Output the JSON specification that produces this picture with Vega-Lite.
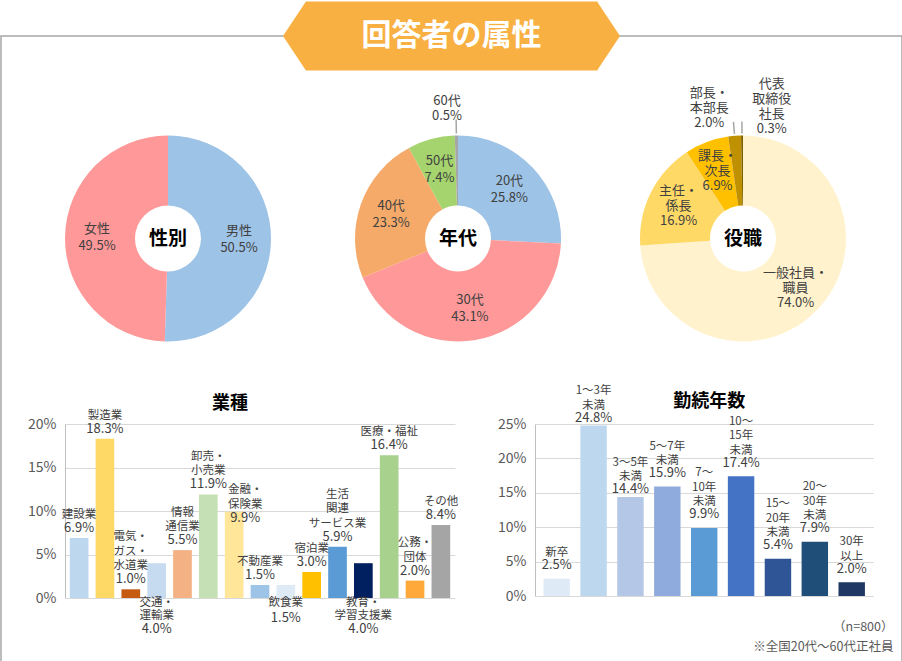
{
  "$schema": "https://vega.github.io/schema/vega-lite/v6.json",
  "padding": 0,
  "background": "white",
  "bounds": "flush",
  "spacing": 0,
  "resolve": {"scale": {"color": "independent", "theta": "independent"}},
  "config": {
    "view": {"stroke": null},
    "font": "Noto Sans CJK JP",
    "text": {"color": "#404040"}
  },
  "hconcat": [
    {
      "spacing": 388,
      "bounds": "flush",
      "resolve": {"scale": {"color": "independent", "theta": "independent"}},
      "vconcat": [
        {
          "spacing": 0,
          "bounds": "flush",
          "resolve": {"scale": {"color": "independent", "theta": "independent"}},
          "hconcat": [
            {
              "width": 334,
              "height": 405,
              "data": {"values": [
                {"name": "男性", "label": "男性", "v": 0.505, "i": 1},
                {"name": "女性", "label": "女性", "v": 0.495, "i": 2}
              ]},
              "transform": [{"calculate": "datum.label + '\\n' + format(datum.v, '.1%')", "as": "txt"}],
              "layer": [
                {
                  "mark": {"type": "arc", "outerRadius": 103, "innerRadius": 33},
                  "encoding": {
                    "theta": {"field": "v", "type": "quantitative", "stack": true},
                    "order": {"field": "i", "type": "quantitative"},
                    "color": {"field": "name", "type": "nominal", "scale": {"domain": ["男性", "女性"], "range": ["#9DC3E6", "#FF9999"]}, "legend": null}
                  }
                },
                {
                  "mark": {"type": "text", "radius": 71, "dy": -8.5, "fontSize": 13, "lineHeight": 17, "lineBreak": "\n", "baseline": "middle"},
                  "encoding": {
                    "theta": {"field": "v", "type": "quantitative", "stack": true},
                    "order": {"field": "i", "type": "quantitative"},
                    "detail": {"field": "name"},
                    "text": {"field": "txt"}
                  }
                },
                {
                  "data": {"values": [{"t": "性別"}]},
                  "transform": [],
                  "mark": {"type": "text", "fontSize": 19, "fontWeight": "bold", "color": "#000000", "baseline": "middle"},
                  "encoding": {"text": {"field": "t"}}
                }
              ]
            },
            {
              "width": 246,
              "height": 405,
              "data": {"values": [
                {"name": "20代", "label": "20代", "v": 0.258, "i": 1},
                {"name": "30代", "label": "30代", "v": 0.431, "i": 2},
                {"name": "40代", "label": "40代", "v": 0.233, "i": 3},
                {"name": "50代", "label": "50代", "v": 0.074, "i": 4},
                {"name": "60代", "label": "60代", "v": 0.005, "i": 5}
              ]},
              "transform": [{"calculate": "datum.label + '\\n' + format(datum.v, '.1%')", "as": "txt"}],
              "layer": [
                {
                  "mark": {"type": "arc", "outerRadius": 103, "innerRadius": 33},
                  "encoding": {
                    "theta": {"field": "v", "type": "quantitative", "stack": true},
                    "order": {"field": "i", "type": "quantitative"},
                    "color": {"field": "name", "type": "nominal", "scale": {"domain": ["20代", "30代", "40代", "50代", "60代"], "range": ["#9DC3E6", "#FF9999", "#F6AA6A", "#A5D46E", "#A6A6A6"]}, "legend": null}
                  }
                },
                {
                  "mark": {"type": "arc", "innerRadius": 105, "outerRadius": 119, "padAngle": 1, "filled": false, "stroke": "#A6A6A6", "strokeWidth": 1.5, "strokeDash": [2, 2]},
                  "encoding": {
                    "theta": {"field": "v", "type": "quantitative", "stack": true},
                    "order": {"field": "i", "type": "quantitative"},
                    "detail": {"field": "name"},
                    "strokeOpacity": {"condition": {"test": "datum.v < 0.05", "value": 1}, "value": 0}
                  }
                },
                {
                  "mark": {"type": "text", "radius": 71, "dy": -8.5, "fontSize": 13, "lineHeight": 17, "lineBreak": "\n", "baseline": "middle"},
                  "encoding": {
                    "theta": {"field": "v", "type": "quantitative", "stack": true},
                    "order": {"field": "i", "type": "quantitative"},
                    "detail": {"field": "name"},
                    "text": {"condition": {"test": "datum.v >= 0.05", "field": "txt"}, "value": ""}
                  }
                },
                {
                  "mark": {"type": "text", "radius": 130, "dx": -9, "dy": -7.5, "fontSize": 13, "lineHeight": 15, "lineBreak": "\n", "baseline": "middle"},
                  "encoding": {
                    "theta": {"field": "v", "type": "quantitative", "stack": true},
                    "order": {"field": "i", "type": "quantitative"},
                    "detail": {"field": "name"},
                    "text": {"condition": {"test": "datum.v < 0.05", "field": "txt"}, "value": ""}
                  }
                },
                {
                  "data": {"values": [{"t": "年代"}]},
                  "transform": [],
                  "mark": {"type": "text", "fontSize": 19, "fontWeight": "bold", "color": "#000000", "baseline": "middle"},
                  "encoding": {"text": {"field": "t"}}
                }
              ]
            },
            {
              "width": 324,
              "height": 405,
              "data": {"values": [
                {"name": "一般社員・職員", "label": "一般社員・\n職員", "v": 0.740, "i": 1},
                {"name": "主任・係長", "label": "主任・\n係長", "v": 0.169, "i": 2},
                {"name": "課長・次長", "label": "課長・\n次長", "v": 0.069, "i": 3},
                {"name": "部長・本部長", "label": "部長・\n本部長", "v": 0.020, "i": 4},
                {"name": "代表取締役社長", "label": "代表\n取締役\n社長", "v": 0.003, "i": 5}
              ]},
              "transform": [{"calculate": "datum.label + '\\n' + format(datum.v, '.1%')", "as": "txt"}],
              "layer": [
                {
                  "mark": {"type": "arc", "outerRadius": 103, "innerRadius": 33},
                  "encoding": {
                    "theta": {"field": "v", "type": "quantitative", "stack": true},
                    "order": {"field": "i", "type": "quantitative"},
                    "color": {"field": "name", "type": "nominal", "scale": {"domain": ["一般社員・職員", "主任・係長", "課長・次長", "部長・本部長", "代表取締役社長"], "range": ["#FFF2CC", "#FFD966", "#FFC000", "#BF9000", "#7F6000"]}, "legend": null}
                  }
                },
                {
                  "mark": {"type": "arc", "innerRadius": 105, "outerRadius": 117, "padAngle": 1, "filled": false, "stroke": "#A6A6A6", "strokeWidth": 1.5, "strokeDash": [2, 2]},
                  "encoding": {
                    "theta": {"field": "v", "type": "quantitative", "stack": true},
                    "order": {"field": "i", "type": "quantitative"},
                    "detail": {"field": "name"},
                    "strokeOpacity": {"condition": {"test": "datum.v < 0.05", "value": 1}, "value": 0}
                  }
                },
                {
                  "mark": {"type": "text", "radius": 72, "dy": -15, "fontSize": 13, "lineHeight": 15, "lineBreak": "\n", "baseline": "middle"},
                  "encoding": {
                    "theta": {"field": "v", "type": "quantitative", "stack": true},
                    "order": {"field": "i", "type": "quantitative"},
                    "detail": {"field": "name"},
                    "text": {"condition": {"test": "datum.v >= 0.05", "field": "txt"}, "value": ""}
                  }
                },
                {
                  "mark": {"type": "text", "radius": 131, "dx": -23, "dy": -15, "fontSize": 13, "lineHeight": 15, "lineBreak": "\n", "baseline": "middle"},
                  "encoding": {
                    "theta": {"field": "v", "type": "quantitative", "stack": true},
                    "order": {"field": "i", "type": "quantitative"},
                    "detail": {"field": "name"},
                    "text": {"condition": {"test": "datum.name === '部長・本部長'", "field": "txt"}, "value": ""}
                  }
                },
                {
                  "mark": {"type": "text", "radius": 132, "dx": 30, "dy": -23, "fontSize": 13, "lineHeight": 15, "lineBreak": "\n", "baseline": "middle"},
                  "encoding": {
                    "theta": {"field": "v", "type": "quantitative", "stack": true},
                    "order": {"field": "i", "type": "quantitative"},
                    "detail": {"field": "name"},
                    "text": {"condition": {"test": "datum.name === '代表取締役社長'", "field": "txt"}, "value": ""}
                  }
                },
                {
                  "data": {"values": [{"t": "役職"}]},
                  "transform": [],
                  "mark": {"type": "text", "fontSize": 19, "fontWeight": "bold", "color": "#000000", "baseline": "middle"},
                  "encoding": {"text": {"field": "t"}}
                }
              ]
            }
          ]
        },
        {
          "spacing": 0,
          "bounds": "flush",
          "resolve": {"scale": {"color": "independent"}},
          "hconcat": [
            {"width": 63.3, "height": 0, "data": {"values": [{"t": ""}]}, "mark": {"type": "text"}, "encoding": {"text": {"field": "t"}}},
            {
              "width": 390,
              "height": 174,
              "title": {"text": "業種", "fontSize": 18, "fontWeight": "bold", "color": "#000000", "dx": -30, "dy": 7, "offset": 4, "anchor": "middle"},
              "data": {"values": [
                {"name": "建設業", "label": "建設業", "v": 0.069},
                {"name": "製造業", "label": "製造業", "v": 0.183},
                {"name": "電気・ガス・水道業", "label": "電気・\nガス・\n水道業", "v": 0.010},
                {"name": "交通・運輸業", "label": "交通・\n運輸業", "v": 0.040},
                {"name": "情報通信業", "label": "情報\n通信業", "v": 0.055},
                {"name": "卸売・小売業", "label": "卸売・\n小売業", "v": 0.119},
                {"name": "金融・保険業", "label": "金融・\n保険業", "v": 0.099},
                {"name": "不動産業", "label": "不動産業", "v": 0.015},
                {"name": "飲食業", "label": "飲食業", "v": 0.015},
                {"name": "宿泊業", "label": "宿泊業", "v": 0.030},
                {"name": "生活関連サービス業", "label": "生活\n関連\nサービス業", "v": 0.059},
                {"name": "教育・学習支援業", "label": "教育・\n学習支援業", "v": 0.040},
                {"name": "医療・福祉", "label": "医療・福祉", "v": 0.164},
                {"name": "公務・団体", "label": "公務・\n団体", "v": 0.020},
                {"name": "その他", "label": "その他", "v": 0.084}
              ]},
              "encoding": {
                "x": {"field": "name", "type": "nominal", "sort": null, "axis": null, "scale": {"paddingInner": 0.277, "paddingOuter": 0.185}},
                "y": {"field": "v", "type": "quantitative", "title": null, "scale": {"domain": [0, 0.2], "nice": false},
                  "axis": {"format": ".0%", "values": [0, 0.05, 0.1, 0.15, 0.2], "ticks": false, "labelFontSize": 14, "labelColor": "#595959", "labelPadding": 9, "domainColor": "#BFBFBF", "gridColor": "#D9D9D9"}}
              },
              "layer": [
                {
                  "mark": {"type": "bar"},
                  "encoding": {
                    "color": {"field": "name", "type": "nominal", "legend": null, "scale": {
                      "domain": ["建設業", "製造業", "電気・ガス・水道業", "交通・運輸業", "情報通信業", "卸売・小売業", "金融・保険業", "不動産業", "飲食業", "宿泊業", "生活関連サービス業", "教育・学習支援業", "医療・福祉", "公務・団体", "その他"],
                      "range": ["#BDD7EE", "#FFD966", "#C55A11", "#C6DBEF", "#F4B183", "#C5E0B4", "#FFE699", "#9DC3E6", "#DEEBF7", "#FFC000", "#5B9BD5", "#002060", "#A9D18E", "#FFA93A", "#A5A5A5"]}}
                  }
                },
                {
                  "transform": [{"filter": {"and": [{"not": {"field": "name", "oneOf": ["交通・運輸業", "飲食業", "教育・学習支援業", "金融・保険業"]}}, "length(split(datum.label, '\\n')) === 1"]}}],
                  "mark": {"type": "text", "baseline": "bottom", "dy": -18, "fontSize": 11.5, "lineHeight": 14.5, "lineBreak": "\n"},
                  "encoding": {"text": {"field": "label"}}
                },
                {
                  "transform": [{"filter": {"and": [{"not": {"field": "name", "oneOf": ["交通・運輸業", "飲食業", "教育・学習支援業", "金融・保険業"]}}, "length(split(datum.label, '\\n')) === 2"]}}],
                  "mark": {"type": "text", "baseline": "bottom", "dy": -32.5, "fontSize": 11.5, "lineHeight": 14.5, "lineBreak": "\n"},
                  "encoding": {"text": {"field": "label"}}
                },
                {
                  "transform": [{"filter": {"and": [{"not": {"field": "name", "oneOf": ["交通・運輸業", "飲食業", "教育・学習支援業", "金融・保険業"]}}, "length(split(datum.label, '\\n')) === 3"]}}],
                  "mark": {"type": "text", "baseline": "bottom", "dy": -47, "fontSize": 11.5, "lineHeight": 14.5, "lineBreak": "\n"},
                  "encoding": {"text": {"field": "label"}}
                },
                {
                  "transform": [{"filter": {"not": {"field": "name", "oneOf": ["交通・運輸業", "飲食業", "教育・学習支援業", "金融・保険業"]}}}],
                  "mark": {"type": "text", "baseline": "bottom", "dy": -3, "fontSize": 13},
                  "encoding": {"text": {"field": "v", "type": "quantitative", "format": ".1%"}}
                },
                {
                  "transform": [{"filter": {"field": "name", "equal": "金融・保険業"}}],
                  "mark": {"type": "text", "baseline": "bottom", "dx": 11, "dy": -16.5, "fontSize": 11.5, "lineHeight": 14.5, "lineBreak": "\n"},
                  "encoding": {"text": {"field": "label"}}
                },
                {
                  "transform": [{"filter": {"field": "name", "equal": "金融・保険業"}}],
                  "mark": {"type": "text", "baseline": "bottom", "dx": 11, "dy": 13, "fontSize": 13},
                  "encoding": {"text": {"field": "v", "type": "quantitative", "format": ".1%"}}
                },
                {
                  "transform": [{"filter": {"field": "name", "oneOf": ["交通・運輸業", "飲食業", "教育・学習支援業"]}}],
                  "mark": {"type": "text", "baseline": "top", "dy": -1, "fontSize": 11.5, "lineHeight": 12.5, "lineBreak": "\n"},
                  "encoding": {"y": {"datum": 0, "type": "quantitative"}, "text": {"field": "label"}}
                },
                {
                  "transform": [{"filter": {"field": "name", "oneOf": ["交通・運輸業", "教育・学習支援業"]}}],
                  "mark": {"type": "text", "baseline": "top", "dy": 25, "fontSize": 13},
                  "encoding": {"y": {"datum": 0, "type": "quantitative"}, "text": {"field": "v", "type": "quantitative", "format": ".1%"}}
                },
                {
                  "transform": [{"filter": {"field": "name", "equal": "飲食業"}}],
                  "mark": {"type": "text", "baseline": "top", "dy": 13.5, "fontSize": 13},
                  "encoding": {"y": {"datum": 0, "type": "quantitative"}, "text": {"field": "v", "type": "quantitative", "format": ".1%"}}
                }
              ]
            },
            {"width": 80, "height": 0, "data": {"values": [{"t": ""}]}, "mark": {"type": "text"}, "encoding": {"text": {"field": "t"}}},
            {
              "width": 338.4,
              "height": 172,
              "title": {"text": "勤続年数", "fontSize": 18, "fontWeight": "bold", "color": "#000000", "dx": 5, "dy": 30, "offset": 4, "anchor": "middle"},
              "data": {"values": [
                {"name": "新卒", "label": "新卒", "v": 0.025},
                {"name": "1～3年未満", "label": "1～3年\n未満", "v": 0.248},
                {"name": "3～5年未満", "label": "3～5年\n未満", "v": 0.144},
                {"name": "5～7年未満", "label": "5～7年\n未満", "v": 0.159},
                {"name": "7～10年未満", "label": "7～\n10年\n未満", "v": 0.099},
                {"name": "10～15年未満", "label": "10～\n15年\n未満", "v": 0.174},
                {"name": "15～20年未満", "label": "15～\n20年\n未満", "v": 0.054},
                {"name": "20～30年未満", "label": "20～\n30年\n未満", "v": 0.079},
                {"name": "30年以上", "label": "30年\n以上", "v": 0.020}
              ]},
              "encoding": {
                "x": {"field": "name", "type": "nominal", "sort": null, "title": ["（n=800）", "※全国20代～60代正社員"],
                  "scale": {"paddingInner": 0.283, "paddingOuter": 0.23},
                  "axis": {"labels": false, "ticks": false, "domain": false, "grid": false, "titleFontSize": 12.5, "titleFontWeight": "normal", "titleColor": "#595959", "titleAnchor": "end", "titleAlign": "right", "titleX": 358, "titleY": 24.5, "titleBaseline": "top", "titleLineHeight": 20}},
                "y": {"field": "v", "type": "quantitative", "title": null, "scale": {"domain": [0, 0.25], "nice": false},
                  "axis": {"format": ".0%", "values": [0, 0.05, 0.1, 0.15, 0.2, 0.25], "ticks": false, "labelFontSize": 14, "labelColor": "#595959", "labelPadding": 9, "domainColor": "#BFBFBF", "gridColor": "#D9D9D9"}}
              },
              "layer": [
                {
                  "mark": {"type": "bar"},
                  "encoding": {
                    "color": {"field": "name", "type": "nominal", "legend": null, "scale": {
                      "domain": ["新卒", "1～3年未満", "3～5年未満", "5～7年未満", "7～10年未満", "10～15年未満", "15～20年未満", "20～30年未満", "30年以上"],
                      "range": ["#DEEBF7", "#BDD7EE", "#B4C7E7", "#8FAADC", "#5B9BD5", "#4472C4", "#2F5597", "#1F4E79", "#203864"]}}
                  }
                },
                {
                  "transform": [{"filter": "length(split(datum.label, '\\n')) === 1"}],
                  "mark": {"type": "text", "baseline": "bottom", "dy": -20.5, "fontSize": 11.5, "lineHeight": 14.5, "lineBreak": "\n"},
                  "encoding": {"text": {"field": "label"}}
                },
                {
                  "transform": [{"filter": {"and": [{"not": {"field": "name", "oneOf": ["1～3年未満", "3～5年未満"]}}, "length(split(datum.label, '\\n')) === 2"]}}],
                  "mark": {"type": "text", "baseline": "bottom", "dy": -35, "fontSize": 11.5, "lineHeight": 14.5, "lineBreak": "\n"},
                  "encoding": {"text": {"field": "label"}}
                },
                {
                  "transform": [{"filter": "length(split(datum.label, '\\n')) === 3"}],
                  "mark": {"type": "text", "baseline": "bottom", "dy": -49.5, "fontSize": 11.5, "lineHeight": 14.5, "lineBreak": "\n"},
                  "encoding": {"text": {"field": "label"}}
                },
                {
                  "transform": [{"filter": {"not": {"field": "name", "oneOf": ["1～3年未満", "3～5年未満"]}}}],
                  "mark": {"type": "text", "baseline": "bottom", "dy": -6.5, "fontSize": 13},
                  "encoding": {"text": {"field": "v", "type": "quantitative", "format": ".1%"}}
                },
                {
                  "transform": [{"filter": {"field": "name", "oneOf": ["1～3年未満", "3～5年未満"]}}],
                  "mark": {"type": "text", "baseline": "bottom", "dy": -29, "fontSize": 11.5, "lineHeight": 14.5, "lineBreak": "\n"},
                  "encoding": {"text": {"field": "label"}}
                },
                {
                  "transform": [{"filter": {"field": "name", "oneOf": ["1～3年未満", "3～5年未満"]}}],
                  "mark": {"type": "text", "baseline": "bottom", "dy": -0.5, "fontSize": 13},
                  "encoding": {"text": {"field": "v", "type": "quantitative", "format": ".1%"}}
                }
              ]
            }
          ]
        }
      ]
    },
    {
      "width": 901,
      "height": 640,
      "view": {"stroke": "#A6A6A6", "strokeWidth": 1.5},
      "data": {"values": [{"t": "回答者の属性"}]},
      "encoding": {
        "y": {"datum": 1, "type": "quantitative", "scale": {"domain": [0, 1], "nice": false}, "axis": null}
      },
      "layer": [
        {
          "mark": {"type": "point", "shape": "M-1,0L-0.864,-0.205L0.864,-0.205L1,0L0.864,0.205L-0.864,0.205Z", "filled": true, "color": "#F9B042", "opacity": 1, "size": 113569, "strokeWidth": 0}
        },
        {
          "mark": {"type": "text", "color": "white", "fontSize": 30, "fontWeight": "bold", "baseline": "middle", "align": "center"},
          "encoding": {"text": {"field": "t"}}
        }
      ]
    }
  ]
}
